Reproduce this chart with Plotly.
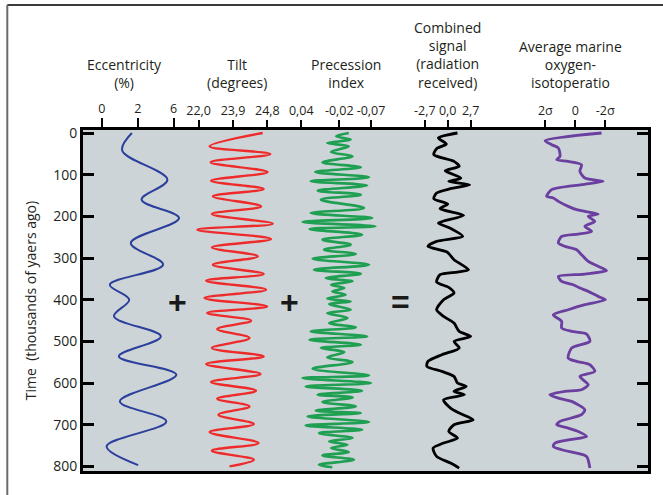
import plotly.graph_objects as go

# ---------------- data (time in thousands of years ago) ----------------
ECC_T = [0, 42, 112, 160, 204, 264, 316, 364, 400, 440, 488, 536, 580, 644, 692, 752, 797]
ECC_V = [1.67, 1.13, 3.65, 2.21, 4.30, 1.61, 3.41, 0.44, 1.52, 0.67, 3.28, 0.94, 4.15, 1.00, 3.59, 0.26, 2.02]

TILT_T = [0, 32, 50.4, 70.4, 93.6, 114.4, 134.4, 152, 176, 194.4, 217.6, 232, 254.4, 274.4,
          296, 316, 338.4, 354.4, 376, 396, 416, 432, 450.4, 470.4, 492, 516, 536, 554.4,
          578.4, 597.6, 618.4, 637.6, 656, 676, 698.4, 717.6, 744, 762.4, 784, 800]
TILT_V = [24.61, 22.45, 24.92, 22.49, 24.81, 22.51, 24.65, 22.58, 24.54, 22.54, 25.02, 21.95,
          24.95, 22.54, 24.41, 22.58, 24.65, 22.31, 24.75, 22.24, 24.79, 22.35, 24.14, 22.76,
          24.07, 22.54, 24.65, 22.31, 24.52, 22.51, 24.34, 22.76, 24.07, 22.81, 24.25, 22.45,
          24.44, 22.54, 24.25, 23.26]

PREC_T = [0, 8, 16, 24, 32, 45.6, 56, 70.4, 82.4, 93.6, 106.4, 116, 125.6, 138.4, 148, 160,
          180, 192, 204, 213.6, 224, 230.4, 244, 256, 268, 280, 290.4, 301.6, 316, 328, 337.6,
          348, 356, 364, 372, 380, 388, 397.6, 404, 410.4, 424, 432, 444, 456, 466.4, 476, 488,
          496, 508, 516, 525.6, 538.4, 549.6, 565.6, 581.6, 588, 600, 608, 618.4, 628, 634.4,
          645.6, 656, 666.4, 672, 680, 693.6, 701.6, 712, 720, 732, 740, 748, 756, 765.6,
          773.6, 784, 796, 802]
PREC_V = [-0.035, -0.015, -0.038, -0.001, -0.035, -0.007, -0.041, 0.0065, -0.054, 0.018,
          -0.067, 0.025, -0.064, 0.014, -0.054, 0.009, -0.059, 0.025, -0.072, 0.038, -0.077,
          0.027, -0.056, 0.0065, -0.038, 0.004, -0.046, 0.022, -0.067, 0.020, -0.054, 0.001,
          -0.041, -0.007, -0.028, -0.009, -0.030, -0.001, -0.038, -0.004, -0.038, -0.001,
          -0.033, -0.004, -0.046, 0.025, -0.064, 0.027, -0.054, 0.009, -0.028, -0.001, -0.041,
          0.022, -0.067, 0.038, -0.070, 0.033, -0.056, 0.014, -0.041, 0.0065, -0.046, 0.017,
          -0.054, 0.030, -0.067, 0.033, -0.056, 0.012, -0.041, -0.004, -0.033, -0.007, -0.035,
          0.0065, -0.043, 0.012, -0.009]

COMB_T = [0, 12, 26.4, 37.6, 52, 68, 80, 90.4, 108, 116, 124, 133.6, 144, 157.6, 170.4, 181.6,
          197.6, 216, 228, 248, 260, 272, 285.6, 304, 328, 333.6, 340, 357.6, 370.4, 384, 400,
          424, 440, 456, 476, 488, 500, 516, 532, 548, 560, 572, 584, 600, 608, 620, 628, 640,
          660, 672, 688, 700, 716, 732, 744, 756, 776, 792, 804]
COMB_V = [1.15, -1.10, -0.16, -1.31, -1.64, 0.74, 1.35, -0.29, 1.55, 0.12, 2.58, 0.33, -1.31,
          -1.64, 0.0, -0.90, 1.88, -1.10, 0.25, 1.76, -1.31, -2.33, -0.08, 0.74, 2.45, 1.15,
          -0.90, -1.31, 0.12, 0.74, -0.49, -1.31, -0.49, 0.74, 1.35, 2.70, 0.74, 1.35, -0.70,
          -2.33, -2.45, -0.70, 0.74, 1.15, 2.17, 0.74, 1.96, -0.49, 0.33, 1.35, 2.99, 0.74,
          0.12, 1.15, -0.49, -1.72, -1.31, 0.33, 1.35]

OXY_T = [0, 18.4, 28, 36, 56, 64, 68, 76, 92, 108, 116, 124, 136, 152, 156, 164, 176, 184, 188,
         194.4, 200, 212, 224, 236, 242.4, 248, 264, 272, 280, 292, 308, 320, 330.4, 338.4, 344,
         356, 364, 372, 380, 392, 400, 412, 424, 436, 452, 468, 476, 482.4, 500, 516, 540, 548,
         556, 572, 584, 604, 616, 620, 628, 636, 644, 664, 676, 692, 700, 708, 716, 728, 736,
         744, 752, 760, 768, 776, 804]
OXY_V = [-1.76, 2.02, 1.58, 1.13, 1.02, 1.24, 0.47, -0.42, -0.31, -0.64, -1.87, -0.42, 1.58,
         1.91, 1.47, 1.13, 0.47, -0.09, -0.64, -1.53, -0.87, -1.31, -0.64, -1.09, -0.20, 0.91,
         1.13, 0.69, -0.09, -0.42, -0.87, -1.53, -2.09, -0.64, 1.13, 0.91, 0.13, -0.31, -0.87,
         -1.53, -2.02, -0.64, 0.47, 1.47, 0.91, 0.91, 0.24, -0.76, -0.98, 0.24, 0.47, -0.09,
         -0.98, -1.31, -0.31, -0.87, -0.42, 0.69, 1.69, 1.13, 0.24, -0.64, -0.42, 1.02, 1.24,
         0.47, -0.20, -0.76, 0.36, 1.36, 1.47, 0.91, -0.09, -0.76, -0.98]

Y_TICKS = [0, 100, 200, 300, 400, 500, 600, 700, 800]
ECC_TICKVALS, ECC_TICKTEXT = [0, 2, 4], ["0", "2", "6"]
TILT_TICKVALS, TILT_TICKTEXT = [22.0, 23.4, 24.8], ["22,0", "23,9", "24,8"]
PREC_TICKVALS, PREC_TICKTEXT = [0.04, -0.02, -0.07], ["0,04", "-0,02", "-0,07"]
COMB_TICKVALS, COMB_TICKTEXT = [-2.7, 0.0, 2.7], ["-2,7", "0,0", "2,7"]
OXY_TICKVALS, OXY_TICKTEXT = [2, 0, -2], ["2σ", "0", "-2σ"]

HEADERS = ["Eccentricity<br>(%)", "Tilt<br>(degrees)", "Precession<br>index",
           "Combined<br>signal<br>(radiation<br>received)",
           "Average marine<br>oxygen-<br>isotoperatio"]

FONT = "Open Sans"

fig = go.Figure()

series = [
    (ECC_V, ECC_T, "x", "#2b3f9c", 2.0, 1.0),
    (TILT_V, TILT_T, "x2", "#ee2a2a", 2.4, 1.0),
    (PREC_V, PREC_T, "x3", "#1f9f52", 2.6, 1.0),
    (COMB_V, COMB_T, "x4", "#000000", 2.8, 0.7),
    (OXY_V, OXY_T, "x5", "#6a3fa0", 2.8, 0.7),
]
for xs, ys, ax, col, w, sm in series:
    fig.add_trace(go.Scatter(x=xs, y=ys, mode="lines", xaxis=ax, yaxis="y",
                             line=dict(color=col, width=w, shape="spline", smoothing=sm),
                             showlegend=False, hoverinfo="skip"))

tickfont = dict(family=FONT, size=12.5, color="#231f20")
common_x = dict(side="top", ticks="outside", ticklen=9, tickwidth=2, tickcolor="black",
                tickangle=0, showgrid=False, zeroline=False, tickfont=tickfont, fixedrange=True)

fig.update_layout(
    width=663, height=495,
    margin=dict(l=83, r=13, t=130, b=24),
    paper_bgcolor="white",
    plot_bgcolor="#cdd4d7",
    font=dict(family=FONT, color="#231f20"),
    xaxis=dict(range=[-1.056, 30.444], tickvals=ECC_TICKVALS, ticktext=ECC_TICKTEXT,
               showline=True, mirror=True, linewidth=3, linecolor="black", **common_x),
    xaxis2=dict(range=[17.292, 40.303], tickvals=TILT_TICKVALS, ticktext=TILT_TICKTEXT,
                overlaying="x", showline=False, **common_x),
    xaxis3=dict(range=[0.3841, -0.5068], tickvals=PREC_TICKVALS, ticktext=PREC_TICKTEXT,
                overlaying="x", showline=False, **common_x),
    xaxis4=dict(range=[-42.96, 23.59], tickvals=COMB_TICKVALS, ticktext=COMB_TICKTEXT,
                overlaying="x", showline=False, **common_x),
    xaxis5=dict(range=[32.93, -4.867], tickvals=OXY_TICKVALS, ticktext=OXY_TICKTEXT,
                overlaying="x", showline=False, **common_x),
    yaxis=dict(range=[811, -7.2], tickvals=Y_TICKS, ticks="inside", ticklen=11, tickwidth=2.5,
               tickcolor="black", showline=True, mirror="ticks", linewidth=3, linecolor="black",
               showgrid=False, zeroline=False, tickfont=dict(family=FONT, size=14, color="#231f20"),
               title=dict(text="Time  (thousands of yaers ago)", standoff=14,
                          font=dict(family=FONT, size=14, color="#231f20")),
               fixedrange=True),
)

# column headers
header_x = [0.0741, 0.2734, 0.4656, 0.6455, 0.8624]
for txt, xp in zip(HEADERS, header_x):
    fig.add_annotation(text=txt, x=xp, y=1.105, xref="paper", yref="paper",
                       xanchor="center", yanchor="bottom", showarrow=False,
                       font=dict(family=FONT, size=14, color="#231f20"))

# operators between columns
for sym, xp in [("+", 0.1675), ("+", 0.3651), ("=", 0.5626)]:
    fig.add_annotation(text="<b>" + sym + "</b>", x=xp, y=0.4956, xref="paper", yref="paper",
                       xanchor="center", yanchor="middle", showarrow=False,
                       font=dict(family="Liberation Sans", size=32, color="#1a1a1a"))

# outer frame of the figure
fig.add_shape(type="line", xref="paper", yref="paper", x0=-0.1340, x1=1.03, y0=1.3666, y1=1.3666,
              line=dict(color="#3a3a3a", width=2))
fig.add_shape(type="line", xref="paper", yref="paper", x0=-0.1340, x1=-0.1340, y0=1.3666, y1=-0.08,
              line=dict(color="#6a6a6a", width=2))

fig.write_html("out.html", config={"displayModeBar": False},
               post_script="document.body.style.margin='0';")
